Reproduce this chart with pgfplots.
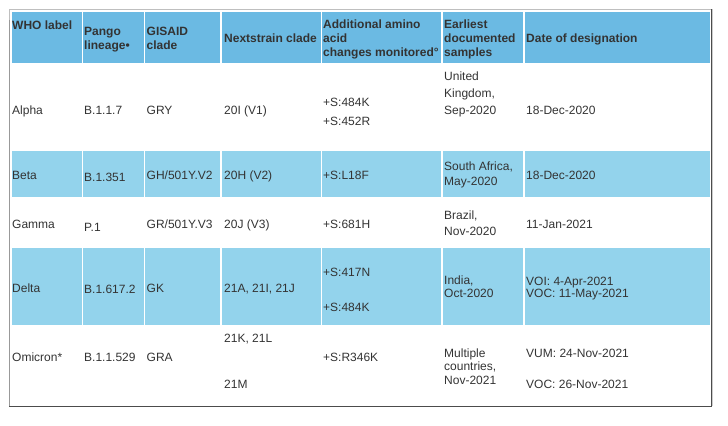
\documentclass[border=0pt]{standalone}
\usepackage{pgfplots}
\pgfplotsset{compat=1.18}
\usepackage{pgfplotstable}
\usepackage{fontspec}
\setmainfont{Liberation Sans}

\definecolor{hdr}{HTML}{6BBAE3}
\definecolor{rowblue}{HTML}{93D3EC}
\definecolor{txt}{HTML}{333333}

% header cells: x = left edge of text, y = baseline (px from top)
\pgfplotstableread[col sep=semicolon]{
x;y;t
12;29.5;WHO label
84;36;Pango
84;49.5;lineage•
146.5;36;GISAID
146.5;49.5;clade
224;43;Nextstrain clade
323;29;Additional amino
323;43;acid
323;57;changes monitored°
444;29;Earliest
444;43;documented
444;57;samples
526;43;Date of designation
}\headtab

\pgfplotstableread[col sep=semicolon]{
x;y;t
12;114;Alpha
84;114;B.1.1.7
146.5;114;GRY
224;114;20I (V1)
323;106;+S:484K
323;125;+S:452R
444;81;United
444;97.5;Kingdom,
444;114;Sep-2020
526;114;18-Dec-2020
12;179.5;Beta
84;181.5;B.1.351
146.5;179.5;GH/501Y.V2
224;179.5;20H (V2)
323;179.5;+S:L18F
444;170.5;South Africa,
444;185.5;May-2020
526;179.5;18-Dec-2020
12;228.5;Gamma
84;231;P.1
146.5;228.5;GR/501Y.V3
224;228.5;20J (V3)
323;228.5;+S:681H
444;219.5;Brazil,
444;235;Nov-2020
526;228.5;11-Jan-2021
12;292.5;Delta
84;293.5;B.1.617.2
146.5;292.5;GK
224;292.5;21A, 21I, 21J
323;276.5;+S:417N
323;311;+S:484K
444;284.5;India,
444;297.5;Oct-2020
526;285;VOI: 4-Apr-2021
526;297.5;VOC: 11-May-2021
12;361;Omicron*
84;361;B.1.1.529
146.5;361;GRA
224;342;21K, 21L
224;388.5;21M
323;361;+S:R346K
444;357;Multiple
444;370.5;countries,
444;384.5;Nov-2021
526;357;VUM: 24-Nov-2021
526;388.5;VOC: 26-Nov-2021
}\bodytab

\begin{document}
\begin{tikzpicture}
\begin{axis}[
  width=728bp, height=426bp, scale only axis, hide axis,
  xmin=0, xmax=728, ymin=0, ymax=426, y dir=reverse, clip=false,
  unbounded coords=jump,
  nodes near coords align={anchor=base west},
]
% bounding box
\addplot[draw=none] coordinates {(0,0) (728,426)};
% header and shaded rows
\addplot[fill=hdr, draw=none] coordinates {(11.5,12) (710,12) (710,63.5) (11.5,63.5)};
\addplot[fill=rowblue, draw=none] coordinates {(11.5,150.5) (710,150.5) (710,197.5) (11.5,197.5)};
\addplot[fill=rowblue, draw=none] coordinates {(11.5,248) (710,248) (710,325) (11.5,325)};
% white column separators
\addplot[white, line width=1.6bp] coordinates {
 (82.5,10) (82.5,406) (nan,nan)
 (144.5,10) (144.5,406) (nan,nan)
 (221,10) (221,406) (nan,nan)
 (321.5,10) (321.5,406) (nan,nan)
 (442,10) (442,406) (nan,nan)
 (524,10) (524,406)};
\addplot[white, line width=1.6bp] coordinates {
 (10,64) (710,64) (nan,nan)
 (10,150) (710,150) (nan,nan)
 (10,198) (710,198) (nan,nan)
 (10,247.5) (710,247.5) (nan,nan)
 (10,325.5) (710,325.5)};
% outer frame
\addplot[color=black!25, line width=0.8bp] coordinates {(9.5,406) (9.5,9.5) (711,9.5)};
\addplot[color=black!40, line width=1.2bp] coordinates {(9.5,20) (9.5,406)};
\addplot[color=black!70, line width=1bp] coordinates {(9,406) (711,406) (711,9.5)};
\addplot[color=black!20, line width=0.6bp] coordinates {(712.5,9.5) (712.5,406)};
% text
\addplot[only marks, mark=none, nodes near coords, point meta=explicit symbolic,
  every node near coord/.append style={anchor=base west, inner sep=0pt, text=txt,
    font=\fontsize{12bp}{14bp}\selectfont\bfseries}]
  table[x=x, y=y, meta=t] {\headtab};
\addplot[only marks, mark=none, nodes near coords, point meta=explicit symbolic,
  every node near coord/.append style={anchor=base west, inner sep=0pt, text=txt,
    font=\fontsize{12bp}{14bp}\selectfont}]
  table[x=x, y=y, meta=t] {\bodytab};
\end{axis}
\end{tikzpicture}
\end{document}
